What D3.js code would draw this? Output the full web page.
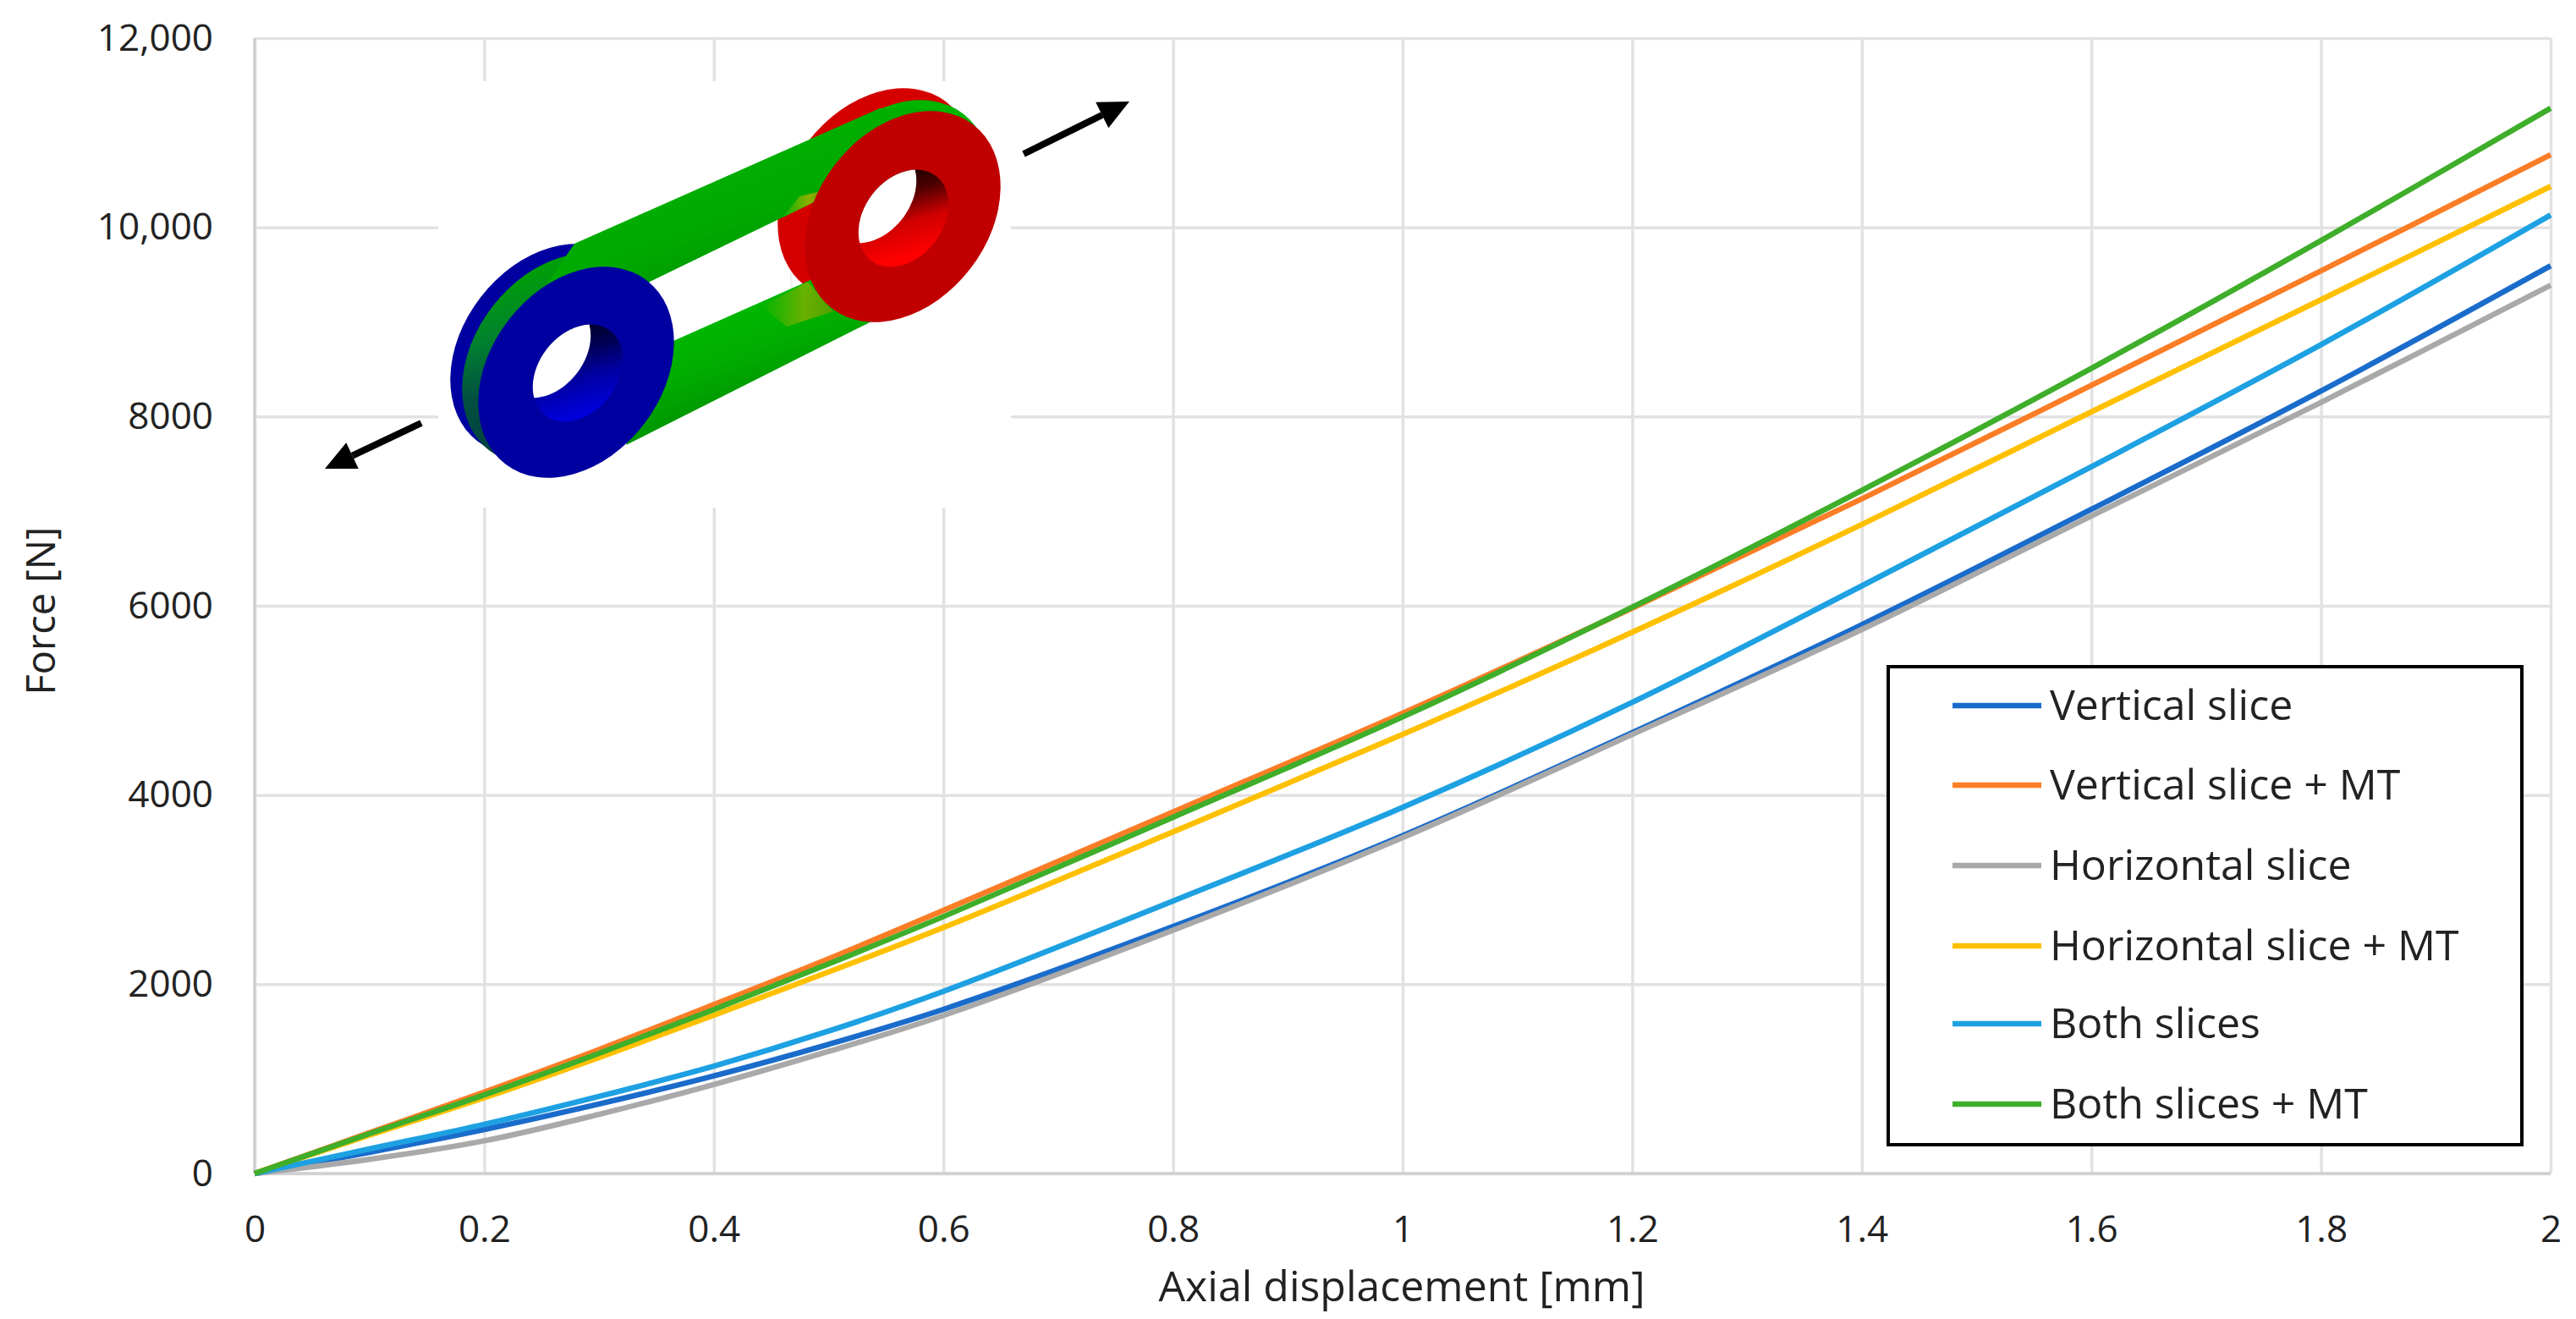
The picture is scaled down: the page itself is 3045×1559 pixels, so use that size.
<!DOCTYPE html>
<html>
<head>
<meta charset="utf-8">
<script src="https://cdnjs.cloudflare.com/ajax/libs/d3/7.8.5/d3.min.js"></script>
<style>
  body { margin: 0; background: #fff; }
  text { font-family: "Open Sans", sans-serif; fill: #222; }
</style>
</head>
<body>
<div id="chart"></div>
<script>
// values
var displacement = [0, 0.1, 0.2, 0.3, 0.4, 0.5, 0.6, 0.8, 1, 1.2, 1.4, 1.6, 1.8, 2]
var verticalSlice = [0, 224, 465, 735, 1031, 1365, 1735, 2610, 3570, 4660, 5800, 7020, 8270, 9593]
var verticalSliceMT = [0, 430, 860, 1310, 1785, 2270, 2780, 3820, 4864, 5975, 7130, 8330, 9540, 10767]
var horizontalSlice = [0, 150, 345, 625, 941, 1290, 1670, 2570, 3550, 4640, 5750, 6950, 8150, 9388]
var horizontalSliceMT = [0, 405, 800, 1225, 1672, 2130, 2600, 3610, 4640, 5720, 6860, 8050, 9235, 10433]
var bothSlices = [0, 259, 520, 815, 1135, 1505, 1925, 2880, 3870, 4980, 6210, 7470, 8760, 10130]
var bothSlicesMT = [0, 420, 830, 1270, 1733, 2215, 2715, 3765, 4825, 5985, 7220, 8510, 9860, 11259]

var seriesNames = ['Vertical slice', 'Vertical slice + MT', 'Horizontal slice', 'Horizontal slice + MT', 'Both slices', 'Both slices + MT']
var seriesValues = [verticalSlice, verticalSliceMT, horizontalSlice, horizontalSliceMT, bothSlices, bothSlicesMT]
var seriesColors = ['#1a6ccb', '#fb7d26', '#a9a9a9', '#ffc000', '#1ea1e2', '#3fae2a']

var xTicks = [0, 0.2, 0.4, 0.6, 0.8, 1, 1.2, 1.4, 1.6, 1.8, 2]
var yTicks = [0, 2000, 4000, 6000, 8000, 10000, 12000]
var yTickLabels = ['0', '2000', '4000', '6000', '8000', '10,000', '12,000']

var width = 3045, height = 1559
var margin = { top: 45, right: 30, bottom: 172, left: 301 }

var svg = d3.select('#chart').append('svg')
  .attr('width', width)
  .attr('height', height)
  .style('display', 'block')

var xScale = d3.scaleLinear().domain([0, 2]).range([margin.left, width - margin.right])
var yScale = d3.scaleLinear().domain([0, 12000]).range([height - margin.bottom, margin.top])

// Grid
var xGrid = d3.axisBottom(xScale).tickValues(xTicks).tickSize(-(height - margin.top - margin.bottom)).tickFormat('')
var yGrid = d3.axisLeft(yScale).tickValues(yTicks).tickSize(-(width - margin.left - margin.right)).tickFormat('')

svg.append('g').attr('transform', `translate(0,${height - margin.bottom})`).call(xGrid)
  .call(g => g.select('.domain').remove())
  .selectAll('line').attr('stroke', '#e2e2e2').attr('stroke-width', 3.5)
svg.append('g').attr('transform', `translate(${margin.left},0)`).call(yGrid)
  .call(g => g.select('.domain').remove())
  .selectAll('line').attr('stroke', '#e2e2e2').attr('stroke-width', 3.5)

// axis lines are a bit darker than the grid
svg.append('line').attr('x1', xScale(0)).attr('x2', xScale(0)).attr('y1', yScale(12000)).attr('y2', yScale(0))
  .attr('stroke', '#d0d0d0').attr('stroke-width', 3.5)
svg.append('line').attr('x1', xScale(0)).attr('x2', xScale(2)).attr('y1', yScale(0)).attr('y2', yScale(0))
  .attr('stroke', '#d0d0d0').attr('stroke-width', 3.5)

// white patch behind the inset picture
svg.append('rect').attr('x', 518).attr('y', 96).attr('width', 677).attr('height', 504).attr('fill', '#fff')

// Tick labels
var xAxis = d3.axisBottom(xScale).tickValues(xTicks).tickSize(0).tickPadding(50).tickFormat(d => String(d))
var yAxis = d3.axisLeft(yScale).tickValues(yTicks).tickSize(0).tickPadding(49).tickFormat((d, i) => yTickLabels[i])

svg.append('g').attr('transform', `translate(0,${height - margin.bottom})`).call(xAxis)
  .call(g => g.select('.domain').remove())
  .selectAll('text').attr('font-size', 44).style('font-family', '"Open Sans", sans-serif')
svg.append('g').attr('transform', `translate(${margin.left},0)`).call(yAxis)
  .call(g => g.select('.domain').remove())
  .selectAll('text').attr('font-size', 44).style('font-family', '"Open Sans", sans-serif')

svg.append('text').attr('x', 1657).attr('y', 1538).attr('text-anchor', 'middle').attr('font-size', 50)
  .text('Axial displacement [mm]')
svg.append('text').attr('transform', 'translate(65,722) rotate(-90)').attr('text-anchor', 'middle').attr('font-size', 47)
  .text('Force [N]')

// Curves
var line = d3.line()
  .x((d, i) => xScale(displacement[i]))
  .y(d => yScale(d))
  .curve(d3.curveCatmullRom.alpha(0.5))

svg.selectAll('path.curve')
  .data(seriesValues)
  .enter()
  .append('path')
  .attr('class', 'curve')
  .attr('d', line)
  .attr('fill', 'none')
  .attr('stroke', (d, i) => seriesColors[i])
  .attr('stroke-width', 6.5)

// Inset picture of the specimen
var defs = svg.append('defs')

function gradient(id, x1, y1, x2, y2, stops) {
  var g = defs.append('linearGradient').attr('id', id)
    .attr('x1', x1).attr('y1', y1).attr('x2', x2).attr('y2', y2)
  stops.forEach(s => g.append('stop').attr('offset', s[0]).attr('stop-color', s[1]))
}
gradient('redHole', 0.25, 0.85, 0.9, 0.2, [[0, '#ff0000'], [0.4, '#d00000'], [0.75, '#500000'], [1, '#200000']])
gradient('blueHole', 0.25, 0.85, 0.9, 0.2, [[0, '#0000d8'], [0.4, '#0000a0'], [0.75, '#000050'], [1, '#000028']])
gradient('barTop', 0.35, 0.1, 0.7, 0.7, [[0, '#00b400'], [0.55, '#00a800'], [1, '#008a00']])
gradient('barLow', 0.35, 0.1, 0.7, 0.75, [[0, '#00bc00'], [0.5, '#00ac00'], [1, '#008c00']])
// ellipses are rotated, so this runs from screen top to screen bottom
gradient('band', 0.9, 0.15, 0.1, 0.85, [[0, '#00a400'], [0.35, '#008030'], [0.6, '#024f40'], [1, '#003c40']])
gradient('olive', 0, 0.5, 1, 0.5, [[0, '#00b400'], [0.6, '#8cb000'], [1, '#6a9c00']])

defs.append('clipPath').attr('id', 'clipCrescent')
  .append('rect').attr('x', 960).attr('y', 100).attr('width', 240).attr('height', 70)

var inset = svg.append('g')

function ellipse(parent, cx, cy, k, fill) {
  return parent.append('ellipse')
    .attr('transform', `translate(${cx},${cy}) rotate(-52.4)`)
    .attr('rx', 137 * k).attr('ry', 101 * k)
    .attr('fill', fill)
}

function hole(cx, cy, id, gradId) {
  ellipse(inset, cx, cy, 0.46, `url(#${gradId})`)
  defs.append('clipPath').attr('id', id)
    .append('ellipse')
    .attr('transform', `translate(${cx},${cy}) rotate(-52.4)`)
    .attr('rx', 137 * 0.46).attr('ry', 101 * 0.46)
  inset.append('g').attr('clip-path', `url(#${id})`)
    .call(g => ellipse(g, cx - 38, cy - 28, 0.46, '#fff'))
}

ellipse(inset, 1018, 300, 0.72, 'none').attr('stroke', '#e8e8e8').attr('stroke-width', 1.5)
ellipse(inset, 1035, 229, 1, '#d40000')
inset.append('g').attr('clip-path', 'url(#clipCrescent)')
  .call(g => ellipse(g, 1055, 243, 1, '#00b400'))
ellipse(inset, 648, 413, 1, '#0000a0')
ellipse(inset, 662, 424, 1, 'url(#band)')

inset.append('polygon').attr('points', '640,345 679,288 1040,128 1112,129 960,240 768,333 700,420')
  .attr('fill', 'url(#barTop)')
inset.append('polygon').attr('points', '925,257 960,240 975,225 945,232').attr('fill', 'url(#olive)')
inset.append('polygon').attr('points', '780,410 958,331 1040,375 740,526').attr('fill', 'url(#barLow)')
inset.append('polygon').attr('points', '900,362 955,333 985,368 930,386').attr('fill', 'url(#olive)').attr('opacity', 0.75)

ellipse(inset, 1067, 256, 1, '#c00000')
hole(1068, 258, 'clipRed', 'redHole')
ellipse(inset, 681, 440, 1, '#0000a0')
hole(683, 441, 'clipBlue', 'blueHole')

// load arrows
function arrow(x1, y1, x2, y2) {
  var a = Math.atan2(y2 - y1, x2 - x1), head = 36, half = 17
  var bx = x2 - head * Math.cos(a), by = y2 - head * Math.sin(a)
  inset.append('line').attr('x1', x1).attr('y1', y1).attr('x2', bx).attr('y2', by)
    .attr('stroke', '#000').attr('stroke-width', 8)
  inset.append('polygon')
    .attr('points', [[x2, y2],
      [bx - half * Math.sin(a), by + half * Math.cos(a)],
      [bx + half * Math.sin(a), by - half * Math.cos(a)]].join(' '))
    .attr('fill', '#000')
}
arrow(498, 500, 384, 554)
arrow(1210, 182, 1335, 120)

// Legend
var legendRows = [834, 928, 1023, 1118, 1210, 1305]

svg.append('rect').attr('x', 2232).attr('y', 788).attr('width', 749).attr('height', 565)
  .attr('fill', '#fff').attr('stroke', '#000').attr('stroke-width', 4)

var legend = svg.selectAll('g.legend')
  .data(seriesNames)
  .enter()
  .append('g')
  .attr('class', 'legend')
  .attr('transform', (d, i) => `translate(0,${legendRows[i]})`)

legend.append('line').attr('x1', 2308).attr('x2', 2413)
  .attr('stroke', (d, i) => seriesColors[i]).attr('stroke-width', 6.5)

legend.append('text').attr('x', 2423).attr('y', 17).attr('font-size', 50)
  .text(d => d)
</script>
</body>
</html>
